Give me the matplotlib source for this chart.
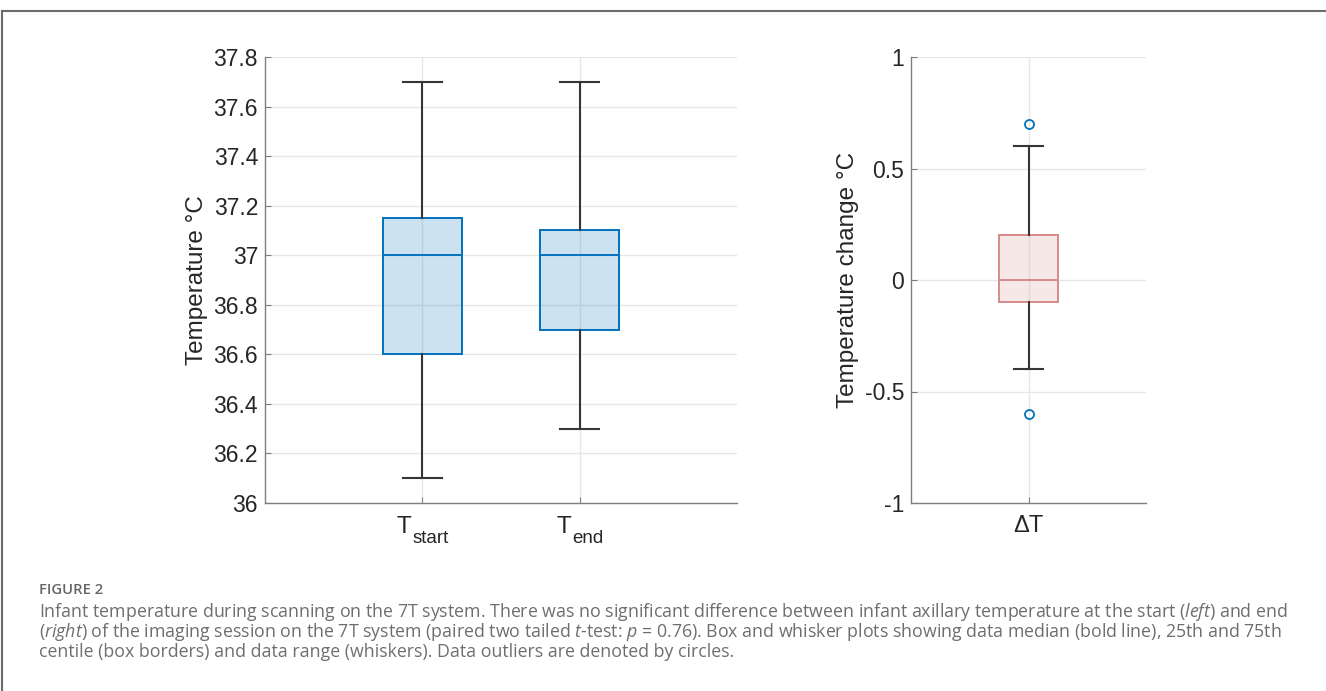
import matplotlib
matplotlib.use("Agg")
import matplotlib.pyplot as plt
from matplotlib.lines import Line2D
from matplotlib.transforms import blended_transform_factory, ScaledTranslation

# ---------------- data ----------------
temp_main = ["T", "T"]
temp_sub = ["start", "end"]
temp_whislo = [36.1, 36.3]
temp_q1 = [36.6, 36.7]
temp_med = [37.0, 37.0]
temp_q3 = [37.15, 37.1]
temp_whishi = [37.7, 37.7]
temp_fliers = [[], []]

delta_labels = ["\u0394T"]
delta_whislo = [-0.4]
delta_q1 = [-0.1]
delta_med = [0.0]
delta_q3 = [0.2]
delta_whishi = [0.6]
delta_fliers = [[0.7, -0.6]]

left_yticks = [36, 36.2, 36.4, 36.6, 36.8, 37, 37.2, 37.4, 37.6, 37.8]
left_yticklabels = ["36", "36.2", "36.4", "36.6", "36.8", "37", "37.2", "37.4", "37.6", "37.8"]
right_yticks = [-1, -0.5, 0, 0.5, 1]
right_yticklabels = ["-1", "-0.5", "0", "0.5", "1"]

caption_title = "FIGURE 2"
caption_lines = [
    "Infant temperature during scanning on the 7T system. There was no significant difference between infant axillary temperature at the start ($\\mathit{left}$) and end",
    "($\\mathit{right}$) of the imaging session on the 7T system (paired two tailed $\\mathit{t}$-test: $\\mathit{p}$ = 0.76). Box and whisker plots showing data median (bold line), 25th and 75th",
    "centile (box borders) and data range (whiskers). Data outliers are denoted by circles.",
]

# ---------------- style ----------------
plt.rcParams["font.family"] = ["Liberation Sans", "DejaVu Sans"]
plt.rcParams["mathtext.fontset"] = "custom"
plt.rcParams["mathtext.it"] = "Open Sans:italic"
plt.rcParams["mathtext.rm"] = "Open Sans"

W, H = 1326, 691
fig = plt.figure(figsize=(W / 100, H / 100), dpi=100)

TXT = "#262626"
GRID = "#e6e6e6"
SPINE = "#7f7f7f"
WHISK = "#363636"


def style_axes(ax):
    for s in ["top", "right"]:
        ax.spines[s].set_visible(False)
    for s in ["left", "bottom"]:
        ax.spines[s].set_color(SPINE)
        ax.spines[s].set_linewidth(1.0)
    ax.grid(True, color=GRID, linewidth=1.0)
    ax.set_axisbelow(True)
    ax.tick_params(direction="in", length=4, width=0.8, color=SPINE,
                   labelsize=16.5, labelcolor=TXT, pad=5)


def make_stats(labels, whislo, q1, med, q3, whishi, fliers):
    return [dict(label=labels[i], whislo=whislo[i], q1=q1[i], med=med[i],
                 q3=q3[i], whishi=whishi[i], fliers=fliers[i])
            for i in range(len(labels))]


# ---- left panel ----
ax1 = fig.add_axes([265 / W, 1 - 503 / H, (737 - 265) / W, (503 - 57) / H])
blue = "#0072BD"
positions = [1, 2]
ax1.bxp(make_stats(["", ""], temp_whislo, temp_q1, temp_med, temp_q3,
                   temp_whishi, temp_fliers),
        positions=positions, widths=0.5, patch_artist=True, showfliers=True,
        boxprops=dict(facecolor=(0 / 255, 114 / 255, 189 / 255, 0.2),
                      edgecolor=blue, linewidth=1.4),
        medianprops=dict(color=blue, linewidth=1.4),
        whiskerprops=dict(color=WHISK, linewidth=1.5),
        capprops=dict(color=WHISK, linewidth=1.5),
        capwidths=0.25,
        flierprops=dict(marker="o", markerfacecolor="none",
                        markeredgecolor=blue, markersize=6))
ax1.set_xlim(0, 3)
ax1.set_ylim(36, 37.8)
ax1.set_yticks(left_yticks)
ax1.set_yticklabels(left_yticklabels)
ax1.set_xticks(positions)
ax1.set_xticklabels(["", ""])
style_axes(ax1)
ax1.set_ylabel("Temperature \u00b0C", fontsize=17.5, color=TXT, labelpad=4)

# composite "T_sub" tick labels (MATLAB style subscript)
renderer = fig.canvas.get_renderer()
blend = blended_transform_factory(ax1.transData, ax1.transAxes)
for pos, m, s in zip(positions, temp_main, temp_sub):
    tm = ax1.text(pos, 0, m, fontsize=17.5, color=TXT, ha="left", va="baseline",
                  transform=blend)
    ts = ax1.text(pos, 0, s, fontsize=13.5, color=TXT, ha="left", va="baseline",
                  transform=blend)
    wm = tm.get_window_extent(renderer).width
    ws = ts.get_window_extent(renderer).width
    x0 = -(wm + ws) / 2
    tm.set_transform(blend + ScaledTranslation(x0 / 100, -30 / 100, fig.dpi_scale_trans))
    ts.set_transform(blend + ScaledTranslation((x0 + wm + 1) / 100, -40 / 100,
                                               fig.dpi_scale_trans))

# ---- right panel ----
ax2 = fig.add_axes([911 / W, 1 - 503 / H, (1146 - 911) / W, (503 - 57) / H])
red = "#D98A8A"
ax2.bxp(make_stats(delta_labels, delta_whislo, delta_q1, delta_med, delta_q3,
                   delta_whishi, delta_fliers),
        positions=[1], widths=0.25, patch_artist=True, showfliers=True,
        boxprops=dict(facecolor=(0.86, 0.55, 0.55, 0.2),
                      edgecolor=red, linewidth=1.4),
        medianprops=dict(color=red, linewidth=1.4),
        whiskerprops=dict(color=WHISK, linewidth=1.5),
        capprops=dict(color=WHISK, linewidth=1.5),
        capwidths=0.125,
        flierprops=dict(marker="o", markerfacecolor="none",
                        markeredgecolor=blue, markersize=6.5,
                        markeredgewidth=1.3))
ax2.set_xlim(0.5, 1.5)
ax2.set_ylim(-1, 1)
ax2.set_yticks(right_yticks)
ax2.set_yticklabels(right_yticklabels)
style_axes(ax2)
ax2.tick_params(axis="x", labelsize=17, pad=9)
ax2.set_ylabel("Temperature change \u00b0C", fontsize=17.5, color=TXT, labelpad=4)

# ---- frame lines ----
fig.add_artist(Line2D([2 / W, 1], [1 - 11 / H, 1 - 11 / H], transform=fig.transFigure,
                      color="#6b6b6b", linewidth=1.5))
fig.add_artist(Line2D([2 / W, 2 / W], [0, 1 - 11 / H], transform=fig.transFigure,
                      color="#6b6b6b", linewidth=1.5))

# ---- caption ----
fig.text(39 / W, 1 - 594 / H, caption_title, fontsize=10.7, fontfamily="Open Sans",
         fontweight="semibold", color="#666666", va="baseline", ha="left")
for i, line in enumerate(caption_lines):
    fig.text(39 / W, 1 - (617 + 20 * i) / H, line, fontsize=12.8, fontfamily="Open Sans",
             color="#6e6e6e", va="baseline", ha="left")

fig.savefig("out.png", dpi=100)
